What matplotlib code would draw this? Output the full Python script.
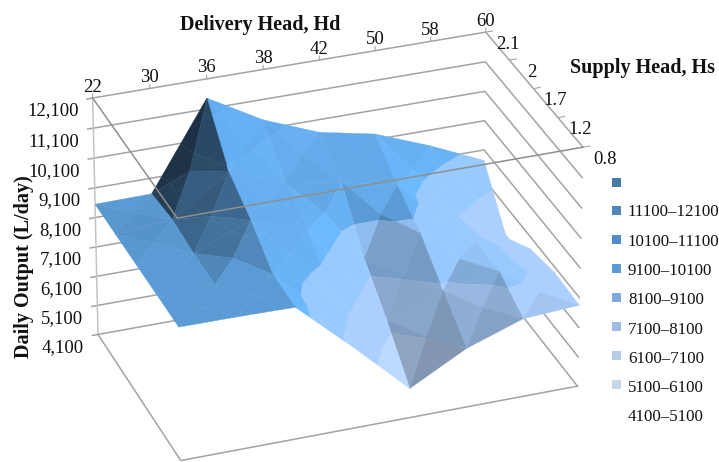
import matplotlib
matplotlib.use('Agg')
import matplotlib.pyplot as plt
import numpy as np
from matplotlib.patches import Rectangle
from mpl_toolkits.mplot3d import proj3d
from mpl_toolkits.mplot3d.art3d import Poly3DCollection

plt.rcParams['font.family'] = ['Liberation Serif', 'DejaVu Serif']

delivery_head = ['22', '30', '36', '38', '42', '50', '58', '60']
supply_head = ['0.8', '1.2', '1.7', '2', '2.1']
output_ticks = [4100, 5100, 6100, 7100, 8100, 9100, 10100, 11100, 12100]

# daily output, one row per supply head
output_08 = [8550, 8540, 8510, 6840, 5090, 6090, 6740, 6850]
output_12 = [8550, 8560, 8560, 7670, 6350, 6990, 7300, 6910]
output_17 = [8550, 8580, 9350, 8700, 7420, 7920, 7320, 6700]
output_20 = [8550, 8700, 9970, 9270, 8970, 8530, 7200, 6070]
output_21 = [8550, 8570, 11460, 10410, 9670, 9290, 8570, 7740]

band_edges = [4100, 5100, 6100, 7100, 8100, 9100, 10100, 11100, 12100]
band_colors = ['#cfe5ff', '#bcd9ff', '#a8ccfa', '#8fbdf0',
               '#5b9bd5', '#5b9bd5', '#5797d2', '#5393ce']

legend_labels = ['', '11100–12100', '10100–11100', '9100–10100', '8100–9100',
                 '7100–8100', '6100–7100', '5100–6100', '4100–5100']
legend_colors = ['#4a7aa8', '#4f86b8', '#4f8ec8', '#5b9bd5', '#7faadb',
                 '#a0bbe0', '#b4cce8', '#c7d7ea', '#ffffff']

BOX = (409, 256, 265)
W, H = 719, 462
GRID = '#a3a3a3'


def clip(poly, level, keep_above):
    # cut a polygon at a height, keeping one side
    out = []
    for k in range(len(poly)):
        a, b = poly[k], poly[(k + 1) % len(poly)]
        a_in = a[2] >= level if keep_above else a[2] <= level
        b_in = b[2] >= level if keep_above else b[2] <= level
        if a_in:
            out.append(a)
        if a_in != b_in:
            t = (level - a[2]) / (b[2] - a[2])
            out.append(a + t * (b - a))
    return out


def shade(color, tri):
    p = tri * np.array([BOX[0] / 7, BOX[1] / 4, BOX[2] / 8000])
    n = np.cross(p[1] - p[0], p[2] - p[0])
    n = n / np.linalg.norm(n)
    if n[2] < 0:
        n = -n
    # light comes from the high-Hd side; faces turned away go grey
    if abs(n[0]) < 0.04:
        f = 1
    elif n[0] < 0:
        f = 1 + 0.55 * n[0] - 0.3 * n[0] ** 2
    else:
        f = 1 + 0.3 * n[0] + 0.08 * max(-n[1], 0)
    rgb = np.array(matplotlib.colors.to_rgb(color)) * f
    # keep the hue when the light pushes a channel past white
    return tuple(rgb / max(rgb.max(), 1))


def facets(z):
    polys, colors = [], []
    for j in range(z.shape[0] - 1):
        for i in range(z.shape[1] - 1):
            c = [np.array([i, j, z[j, i]], float),
                 np.array([i + 1, j, z[j, i + 1]], float),
                 np.array([i + 1, j + 1, z[j + 1, i + 1]], float),
                 np.array([i, j + 1, z[j + 1, i]], float)]
            mid = sum(c) / 4
            for k in range(4):
                tri = [c[k], c[(k + 1) % 4], mid]
                for b in range(len(band_colors)):
                    piece = clip(tri, band_edges[b], True)
                    if piece:
                        piece = clip(piece, band_edges[b + 1], False)
                    if len(piece) >= 3:
                        polys.append(piece)
                        colors.append(shade(band_colors[b], np.array(tri)))
    return polys, colors


z = np.array([output_08, output_12, output_17, output_20, output_21], float)

fig = plt.figure(figsize=(W / 100, H / 100), dpi=100)
S = 549
ax = fig.add_axes([(328.5 - S / 2) / W, 1 - (250 + S / 2) / H, S / W, S / H],
                  projection='3d', computed_zorder=False)
ax.set_axis_off()
ax.patch.set_alpha(0)
ax.set_proj_type('persp', focal_length=2)
ax.view_init(elev=29.2, azim=-110)
ax.set_xlim(0, 7, view_margin=0)
ax.set_ylim(0, 4, view_margin=0)
ax.set_zlim(4100, 12100, view_margin=0)
ax.set_box_aspect(BOX)

# walls behind the surface
for v in output_ticks:
    ax.plot([-0.1, 0, 7, 7], [4, 4, 4, 0], [v, v, v, v], color=GRID, lw=1.1, zorder=1)
ax.plot([0, 0], [4, 4], [4100, 12100], color='#c4c4c4', lw=1.1, zorder=1)
ax.plot([0, 0, 7], [4, 0, 0], [4100, 4100, 4100], color=GRID, lw=1.1, zorder=1)
for i in range(len(delivery_head)):
    ax.plot([i, i], [4, 4], [12100, 12230], color=GRID, lw=0.8, zorder=1)
for j in range(len(supply_head)):
    ax.plot([7, 7.12], [j, j], [12100, 12100], color=GRID, lw=0.8, zorder=1)

polys, colors = facets(z)
surf = Poly3DCollection(polys, facecolors=colors, edgecolors=colors, linewidths=0.3, zorder=2)
ax.add_collection3d(surf, autolim=False)

# upper rim runs in front of the surface
ax.plot([0, 0, 7], [4, 0, 0], [12100, 12100, 12100], color='#8f8f8f', lw=1.1, zorder=3)


def tick_label(x, y, v, text, dx, dy, ha='center', size=13.5):
    px, py, _ = proj3d.proj_transform(x, y, v, ax.get_proj())
    ax.annotate(text, xy=(px, py), xytext=(dx, dy), textcoords='offset pixels',
                ha=ha, va='center', fontsize=size, color='#111111', annotation_clip=False)


for i, lab in enumerate(delivery_head):
    tick_label(i, 4, 12100, lab, 0, 11)
for j, lab in enumerate(supply_head):
    tick_label(7, j, 12100, lab, 22, -12)
for v in output_ticks:
    tick_label(0, 4, v, f'{v:,}', -14, -13, ha='right')

fig.text(260 / W, 1 - 25 / H, 'Delivery Head, Hd', fontsize=14.5, fontweight='bold',
         ha='center', va='center', color='#111111')
fig.text(643 / W, 1 - 68 / H, 'Supply Head, Hs', fontsize=14.5, fontweight='bold',
         ha='center', va='center', color='#111111')
fig.text(24 / W, 1 - 267 / H, 'Daily Output (L/day)', fontsize=14.5, fontweight='bold',
         rotation=90, ha='center', va='center', color='#111111')

# legend swatches and labels sit on slightly different rows
for k, (lab, col) in enumerate(zip(legend_labels, legend_colors)):
    sy = 182 + 28.9 * k
    fig.add_artist(Rectangle((612 / W, 1 - (sy + 4.5) / H), 9 / W, 9 / H,
                             transform=fig.transFigure, facecolor=col, edgecolor='none'))
    fig.text(628 / W, 1 - (183 + 29.3 * k) / H, lab, fontsize=12.2, ha='left', va='center', color='#111111')

fig.savefig('out.png', dpi=100)
